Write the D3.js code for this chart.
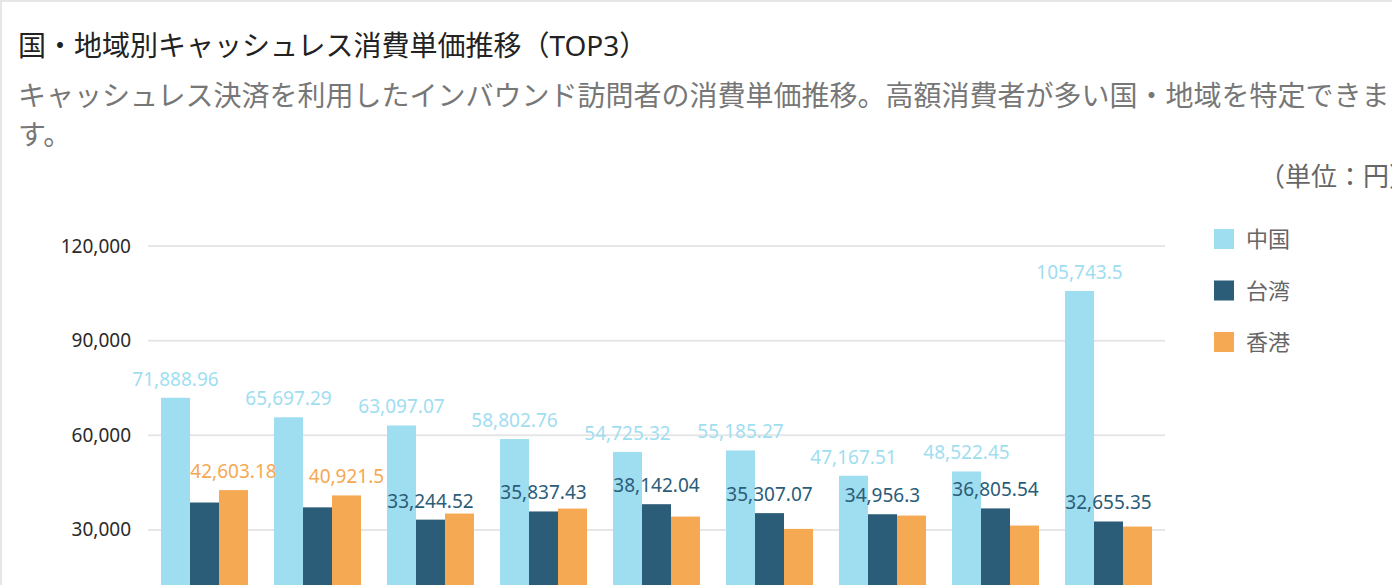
<!DOCTYPE html>
<html>
<head>
<meta charset="utf-8">
<script src="https://cdn.jsdelivr.net/npm/d3@7"></script>
<style>
  html, body { margin: 0; padding: 0; background: #fff; overflow: hidden; }
  svg { display: block; font-family: "Noto Sans", "Noto Sans CJK JP", sans-serif; }
</style>
</head>
<body>
<svg></svg>
<script>
var width = 1392,
    height = 585;

// data (the x labels sit below the visible area, so they are not drawn)
var categories = ["p1", "p2", "p3", "p4", "p5", "p6", "p7", "p8", "p9"];
var seriesNames = ["中国", "台湾", "香港"];
var china  = [71888.96, 65697.29, 63097.07, 58802.76, 54725.32, 55185.27, 47167.51, 48522.45, 105743.5];
var taiwan = [38670, 37140, 33244.52, 35837.43, 38142.04, 35307.07, 34956.3, 36805.54, 32655.35];
var hongkong = [42603.18, 40921.5, 35180, 36760, 34220, 30320, 34540, 31370, 31050];
var showChina  = [true, true, true, true, true, true, true, true, true];
var showTaiwan = [false, false, true, true, true, true, true, true, true];
var showHK     = [true, true, false, false, false, false, false, false, false];
var yTicks = [30000, 60000, 90000, 120000];

var colors = ["#9fdef0", "#2b5c78", "#f5a952"];

var svg = d3.select("svg")
    .attr("width", width)
    .attr("height", height);

// card border
svg.append("rect")
    .attr("x", 1).attr("y", 1)
    .attr("width", width + 10).attr("height", height + 10)
    .attr("fill", "none")
    .attr("stroke", "#e6e6e6")
    .attr("stroke-width", 2);

svg.append("text")
    .attr("x", 18).attr("y", 56)
    .attr("font-size", 28)
    .attr("fill", "#222")
    .text("国・地域別キャッシュレス消費単価推移（TOP3）");

var sub = svg.append("text")
    .attr("font-size", 28)
    .attr("fill", "#777");
sub.append("tspan").attr("x", 18).attr("y", 106)
    .text("キャッシュレス決済を利用したインバウンド訪問者の消費単価推移。高額消費者が多い国・地域を特定できま");
sub.append("tspan").attr("x", 18).attr("y", 145)
    .text("す。");

svg.append("text")
    .attr("x", 1259).attr("y", 186)
    .attr("font-size", 26)
    .attr("fill", "#666")
    .text("（単位：円）");

var margin = {left: 148, right: 1165, top: 246, bottom: 624.5};

var x0 = d3.scaleBand()
    .domain(categories)
    .range([margin.left, margin.right])
    .paddingInner(0.23)
    .paddingOuter(0.115);

var x1 = d3.scaleBand()
    .domain(seriesNames)
    .range([0, x0.bandwidth()]);

var y = d3.scaleLinear()
    .domain([0, 120000])
    .range([margin.bottom, margin.top]);

// grid
svg.append("g")
    .selectAll("line")
    .data(yTicks)
    .enter().append("line")
    .attr("x1", margin.left).attr("x2", margin.right)
    .attr("y1", d => y(d)).attr("y2", d => y(d))
    .attr("stroke", "#e6e6e6")
    .attr("stroke-width", 2);

// y axis labels
var yAxis = svg.append("g")
    .attr("transform", "translate(" + (margin.left - 17) + ",0)")
    .call(d3.axisLeft(y).tickValues(yTicks).tickSize(0).tickPadding(0).tickFormat(d3.format(",")));
yAxis.select(".domain").remove();
yAxis.selectAll("text")
    .attr("font-size", 19)
    .attr("font-family", "Noto Sans, sans-serif")
    .attr("fill", "#2a2a2a");

var series = [
    {name: seriesNames[0], values: china, show: showChina, color: colors[0]},
    {name: seriesNames[1], values: taiwan, show: showTaiwan, color: colors[1]},
    {name: seriesNames[2], values: hongkong, show: showHK, color: colors[2]}
];

var gSeries = svg.selectAll("g.series")
    .data(series)
    .enter().append("g")
    .attr("class", "series");

gSeries.selectAll("rect")
    .data(s => s.values.map((v, i) => ({name: s.name, cat: categories[i], value: v, color: s.color})))
    .enter().append("rect")
    .attr("x", d => x0(d.cat) + x1(d.name))
    .attr("y", d => y(d.value))
    .attr("width", x1.bandwidth())
    .attr("height", d => y(0) - y(d.value))
    .attr("fill", d => d.color);

gSeries.selectAll("text")
    .data(s => s.values.map((v, i) => ({name: s.name, cat: categories[i], value: v, show: s.show[i], color: s.color}))
        .filter(d => d.show))
    .enter().append("text")
    .attr("x", d => x0(d.cat) + x1(d.name) + x1.bandwidth() / 2)
    .attr("y", d => y(d.value) - 12)
    .attr("text-anchor", "middle")
    .attr("font-size", 19)
    .attr("fill", d => d.color)
    .text(d => d3.format(",")(d.value));

// legend
var legend = svg.append("g")
    .selectAll("g")
    .data(series)
    .enter().append("g")
    .attr("transform", (d, i) => "translate(1214," + (229 + i * 51.5) + ")");

legend.append("rect")
    .attr("width", 20).attr("height", 20)
    .attr("fill", d => d.color);

legend.append("text")
    .attr("x", 32).attr("y", 18)
    .attr("font-size", 22)
    .attr("fill", "#666")
    .text(d => d.name);
</script>
</body>
</html>
